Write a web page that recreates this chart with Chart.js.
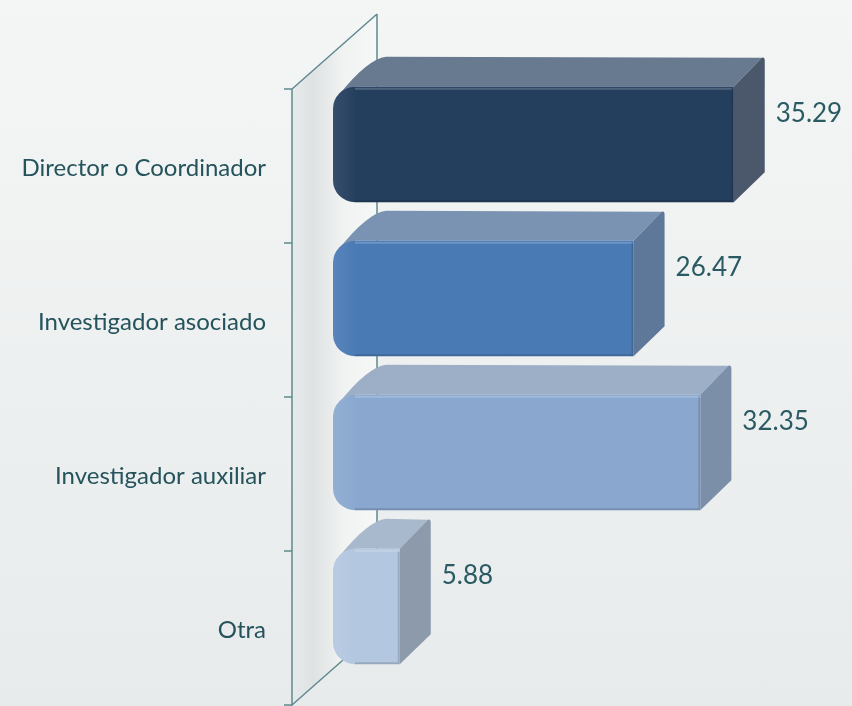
<!DOCTYPE html>
<html>
<head>
<meta charset="utf-8">
<script src="https://cdn.jsdelivr.net/npm/chart.js@4"></script>
<style>
  html, body { margin: 0; padding: 0; overflow: hidden; }
  body { background: linear-gradient(#f4f6f6, #e8ebeb); }
</style>
</head>
<body>
<canvas id="myChart" width="852" height="706"></canvas>
<script>
const categories = ['Director o Coordinador', 'Investigador asociado', 'Investigador auxiliar', 'Otra'];
const values = [35.29, 26.47, 32.35, 5.88];
const frontColours = ['#243f5e', '#4a7ab4', '#8aa8cf', '#b3c7e0'];
const topColours = ['#687a8f', '#7a93b3', '#9dafc6', '#a9b9cd'];
const sideColours = ['#4b586b', '#5e7899', '#7b8fa8', '#8d9aac'];

// depth of the bars, corner radius of their front
const DX = 31, DY = -30, R = 22;

const wall3d = {
  id: 'wall3d',
  beforeDatasetsDraw(chart) {
    const ctx = chart.ctx;
    const area = chart.chartArea;
    const band = (area.bottom - area.top) / categories.length;
    const fx = area.left - 41, bx = area.left + 44;
    const fTop = area.top + 21.5, bTop = area.top - 53.5;
    const fBot = fTop + band * categories.length, bBot = bTop + band * categories.length;

    ctx.save();
    // side wall
    const g = ctx.createLinearGradient(fx, 0, bx, 0);
    g.addColorStop(0, '#e7eaea');
    g.addColorStop(0.25, '#dfe2e2');
    g.addColorStop(0.6, '#f1f3f3');
    g.addColorStop(1, '#f6f7f7');
    ctx.fillStyle = g;
    ctx.beginPath();
    ctx.moveTo(fx, fTop);
    ctx.lineTo(bx, bTop);
    ctx.lineTo(bx, bBot);
    ctx.lineTo(fx, fBot);
    ctx.closePath();
    ctx.fill();

    ctx.strokeStyle = '#5f8a8f';
    ctx.lineWidth = 1.5;
    ctx.beginPath();
    ctx.moveTo(fx, fTop); ctx.lineTo(fx, fBot + 10);
    ctx.moveTo(bx, bTop); ctx.lineTo(bx, bBot);
    ctx.moveTo(fx, fTop); ctx.lineTo(bx, bTop);
    ctx.moveTo(fx, fBot); ctx.lineTo(bx, bBot);
    for (let i = 0; i <= categories.length; i++) {
      ctx.moveTo(fx - 8, fTop + band * i);
      ctx.lineTo(fx, fTop + band * i);
    }
    ctx.stroke();

    // top and side faces of the bars
    const meta = chart.getDatasetMeta(0);
    meta.data.forEach((el, i) => {
      const left = el.base, right = el.x;
      const top = el.y - el.height / 2, bottom = el.y + el.height / 2;
      ctx.fillStyle = topColours[i];
      ctx.beginPath();
      ctx.moveTo(right, top);
      ctx.lineTo(right + DX - 3, top + DY + 1);
      ctx.lineTo(left + R + DX, top + DY);
      ctx.quadraticCurveTo(left + DX + 4, top + DY + 2, left + 6, top + 8);
      ctx.lineTo(left + R, top);
      ctx.closePath();
      ctx.fill();

      ctx.fillStyle = sideColours[i];
      ctx.beginPath();
      ctx.moveTo(right, top);
      ctx.lineTo(right + DX - 3, top + DY + 1);
      ctx.quadraticCurveTo(right + DX, top + DY, right + DX, top + DY + 4);
      ctx.lineTo(right + DX, bottom + DY);
      ctx.lineTo(right, bottom);
      ctx.closePath();
      ctx.fill();
    });
    ctx.restore();
  },
  afterDatasetsDraw(chart) {
    const ctx = chart.ctx;
    const meta = chart.getDatasetMeta(0);
    ctx.save();
    meta.data.forEach((el, i) => {
      const left = el.base, right = el.x;
      const top = el.y - el.height / 2, bottom = el.y + el.height / 2;
      // rounded look on the left edge
      const lg = ctx.createLinearGradient(left, 0, left + 24, 0);
      lg.addColorStop(0, 'rgba(255,255,255,0.08)');
      lg.addColorStop(1, 'rgba(255,255,255,0)');
      ctx.fillStyle = lg;
      ctx.beginPath();
      ctx.moveTo(left + R, top);
      ctx.lineTo(left + 24, top);
      ctx.lineTo(left + 24, bottom);
      ctx.lineTo(left + R, bottom);
      ctx.quadraticCurveTo(left, bottom, left, bottom - R);
      ctx.lineTo(left, top + R);
      ctx.quadraticCurveTo(left, top, left + R, top);
      ctx.fill();
      // soft highlight on the top edge, shadow on the bottom edge
      ctx.strokeStyle = 'rgba(255,255,255,0.2)';
      ctx.lineWidth = 2;
      ctx.beginPath();
      ctx.moveTo(left + R, top + 2); ctx.lineTo(right - 2, top + 2);
      ctx.stroke();
      ctx.strokeStyle = 'rgba(0,0,0,0.15)';
      ctx.beginPath();
      ctx.moveTo(left + R, bottom - 1); ctx.lineTo(right, bottom - 1);
      ctx.moveTo(right - 1, top + 3); ctx.lineTo(right - 1, bottom);
      ctx.stroke();

      ctx.fillStyle = '#2a5a62';
      ctx.font = '26px Lato';
      ctx.textAlign = 'left';
      ctx.textBaseline = 'middle';
      ctx.fillText(values[i].toFixed(2), right + DX + 11, top + 27);
    });
    ctx.restore();
  }
};

var ctx = document.getElementById('myChart').getContext('2d');
var chart = new Chart(ctx, {
  type: 'bar',
  data: {
    labels: categories,
    datasets: [{
      data: values,
      backgroundColor: frontColours,
      borderWidth: 0,
      borderSkipped: false,
      borderRadius: { topLeft: R, bottomLeft: R, topRight: 0, bottomRight: 0 },
      barPercentage: 0.75,
      categoryPercentage: 1
    }]
  },
  options: {
    indexAxis: 'y',
    responsive: false,
    animation: false,
    layout: { padding: { left: 0, right: 8, top: 67.5, bottom: 22.5 } },
    plugins: { legend: { display: false }, tooltip: { enabled: false } },
    scales: {
      x: { display: false, min: 0, max: 45 },
      y: {
        grid: { display: false, drawTicks: false },
        border: { display: false },
        ticks: {
          color: '#25535c',
          font: { family: 'Lato', size: 24 },
          padding: 67,
          labelOffset: 23.5
        },
        afterFit(scale) {
          scale.width = 333;
          scale.paddingTop = 0;
          scale.paddingBottom = 0;
        }
      }
    }
  },
  plugins: [wall3d]
});
</script>
</body>
</html>
